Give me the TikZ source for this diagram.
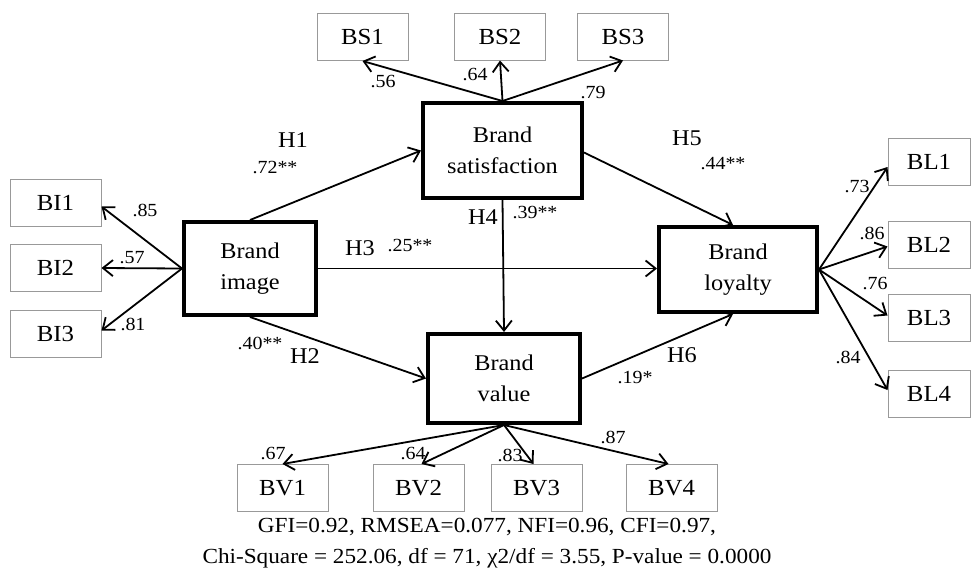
\documentclass[tikz,border=0pt]{standalone}
\usepackage{fontspec}
\setmainfont[FakeStretch=1.08]{Liberation Serif}
\usetikzlibrary{arrows.meta}
\begin{document}
\begin{tikzpicture}[x=1pt,y=-1pt,
  ind/.style={draw=black!40,line width=1pt,minimum width=91pt,minimum height=47pt,inner sep=0pt,font=\fontsize{23}{25}\selectfont},
  lat/.style={draw=black,line width=4pt,inner sep=0pt,align=center,font=\fontsize{22.5}{31}\selectfont},
  arr/.style={line width=1.8pt,-{Straight Barb[length=10pt,width=16pt,line width=1.8pt]}},
  hyp/.style={inner sep=0pt,font=\fontsize{22.5}{24}\selectfont},
  coef/.style={inner sep=0pt,font=\fontsize{18.5}{20}\selectfont},
  load/.style={inner sep=0pt,font=\fontsize{18.5}{20}\selectfont},
  foot/.style={inner sep=0pt,font=\fontsize{21.5}{24}\selectfont}]
\useasboundingbox (0,0) rectangle (973,576);
% latent constructs
\node[lat,minimum width=159pt,minimum height=95pt] (BS) at (502.5,150.5) {Brand\\satisfaction};
\node[lat,minimum width=132pt,minimum height=93pt] (BI) at (250,268.5) {Brand\\image};
\node[lat,minimum width=158pt,minimum height=85pt] (BL) at (738,269.5) {Brand\\loyalty};
\node[lat,minimum width=152pt,minimum height=89pt] (BV) at (504,378.5) {Brand\\value};
% indicators
\node[ind] (BS1) at (362.5,37) {BS1};
\node[ind] (BS2) at (500,36.5) {BS2};
\node[ind] (BS3) at (623,36.5) {BS3};
\node[ind] (BI1) at (55.5,202.5) {BI1};
\node[ind] (BI2) at (55.5,268) {BI2};
\node[ind] (BI3) at (55.5,333.5) {BI3};
\node[ind,minimum width=82pt] (BL1) at (929,162) {BL1};
\node[ind,minimum width=82pt] (BL2) at (929,244.5) {BL2};
\node[ind,minimum width=82pt] (BL3) at (929,317.5) {BL3};
\node[ind,minimum width=82pt] (BL4) at (929,394) {BL4};
\node[ind] (BV1) at (282.5,488) {BV1};
\node[ind] (BV2) at (418.5,488) {BV2};
\node[ind] (BV3) at (536.5,488) {BV3};
\node[ind] (BV4) at (671.5,488) {BV4};
% structural paths
\draw[arr] (BI.north) -- (BS.west);
\draw[arr] (BI.south) -- (BV.west);
\draw[arr] (BI.east) -- (BI.east -| BL.west);
\draw[arr] (BS.south) -- (BV.north);
\draw[arr] ([yshift=-2pt]BS.east) -- ([xshift=-5pt]BL.north);
\draw[arr] (BV.east) -- ([xshift=-5pt]BL.south);
% measurement paths
\draw[arr] (BS.north) -- (BS1.south);
\draw[arr] (BS.north) -- (BS2.south);
\draw[arr] (BS.north) -- (BS3.south);
\draw[arr] (BI.west) -- ([yshift=-4pt]BI1.east);
\draw[arr] (BI.west) -- (BI2.east);
\draw[arr] (BI.west) -- ([yshift=3pt]BI3.east);
\draw[arr] (BL.east) -- ([yshift=-5pt]BL1.west);
\draw[arr] (BL.east) -- ([yshift=-2pt]BL2.west);
\draw[arr] (BL.east) -- ([yshift=2pt]BL3.west);
\draw[arr] (BL.east) -- ([yshift=4pt]BL4.west);
\draw[arr] (BV.south) -- (BV1.north);
\draw[arr] (BV.south) -- ([xshift=3pt]BV2.north);
\draw[arr] (BV.south) -- ([xshift=-3pt]BV3.north);
\draw[arr] (BV.south) -- ([xshift=-3pt]BV4.north);
% labels
\node[load] (l56) at (383,82) {.56};
\node[load] (l64a) at (475,75) {.64};
\node[load] (l79) at (593,93) {.79};
\node[hyp] (h1) at (293,140) {H1};
\node[coef] (c72) at (275,168) {.72**};
\node[load] (l85) at (145,210) {.85};
\node[load] (l57) at (132,258) {.57};
\node[load] (l81) at (133,324) {.81};
\node[coef] (c40) at (260,343) {.40**};
\node[hyp] (h2) at (305,356) {H2};
\node[hyp] (h3) at (360,248) {H3};
\node[coef] (c25) at (410,246) {.25**};
\node[hyp] (h4) at (483,217) {H4};
\node[coef] (c39) at (535,213) {.39**};
\node[hyp] (h5) at (687,138) {H5};
\node[coef] (c44) at (723,164) {.44**};
\node[load] (l73) at (857,187) {.73};
\node[load] (l86) at (872,233) {.86};
\node[load] (l76) at (875,283) {.76};
\node[load] (l84) at (848,357) {.84};
\node[hyp] (h6) at (682,355) {H6};
\node[coef] (c19) at (635,377) {.19*};
\node[load] (l67) at (273,453) {.67};
\node[load] (l64b) at (413,453) {.64};
\node[load] (l83) at (510,455) {.83};
\node[load] (l87) at (613,437) {.87};
\node[foot] (f1) at (487,527) {GFI=0.92, RMSEA=0.077, NFI=0.96, CFI=0.97,};
\node[foot] (f2) at (487,558) {Chi-Square = 252.06, df = 71, χ2/df = 3.55, P-value = 0.0000};
\end{tikzpicture}
\end{document}
